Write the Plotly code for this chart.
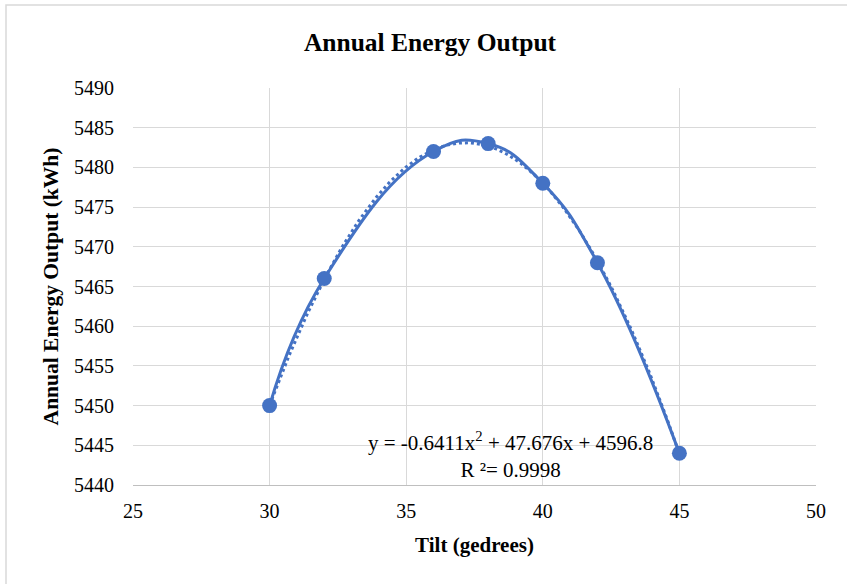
import numpy as np
import plotly.graph_objects as go

tilt = [30, 32, 36, 38, 40, 42, 45]
energy = [5450, 5466, 5482, 5483, 5478, 5468, 5444]
x_ticks = [25, 30, 35, 40, 45, 50]
y_ticks = [5440, 5445, 5450, 5455, 5460, 5465, 5470, 5475, 5480, 5485, 5490]
eq_text = "y = -0.6411x<sup>2</sup> + 47.676x + 4596.8<br>R ²= 0.9998"

coef = np.polyfit(tilt, energy, 2)
tx = np.linspace(min(tilt), max(tilt), 200)
ty = np.polyval(coef, tx)

BLUE = "#4472C4"
FONT = "Liberation Serif, Times New Roman, serif"

fig = go.Figure()
fig.add_trace(go.Scatter(x=tx, y=ty, mode="lines",
                         line=dict(color=BLUE, width=3, dash="dot"),
                         hoverinfo="skip", showlegend=False))
fig.add_trace(go.Scatter(x=tilt, y=energy, mode="lines+markers",
                         line=dict(color=BLUE, width=3, shape="spline", smoothing=1.3),
                         marker=dict(color=BLUE, size=15),
                         showlegend=False))

L, R, T, B = 133, 31, 88, 99
W, H = 847, 584
pw, ph = W - L - R, H - T - B

def px_x(p):
    return (p - L) / pw

def px_y(p):
    return (H - B - p) / ph

fig.add_shape(type="rect", xref="paper", yref="paper",
              x0=px_x(6), x1=px_x(870), y0=px_y(600), y1=px_y(5),
              line=dict(color="#D9D9D9", width=1.5), layer="below")

fig.add_annotation(xref="paper", yref="paper", x=px_x(510), y=px_y(455),
                   text=eq_text, showarrow=False, align="center",
                   xanchor="center", yanchor="middle",
                   font=dict(family=FONT, size=21, color="#000000"))

fig.update_layout(
    width=W, height=H,
    margin=dict(l=L, r=R, t=T, b=B),
    paper_bgcolor="white", plot_bgcolor="white",
    title=dict(text="<b>Annual Energy Output</b>", x=430 / W, xanchor="center",
               y=1 - 42 / H, yanchor="middle", xref="container", yref="container",
               font=dict(family=FONT, size=25.5, color="#000000")),
    xaxis=dict(range=[25, 50], tickvals=x_ticks, showgrid=True,
               gridcolor="#D9D9D9", gridwidth=1, zeroline=False,
               showline=True, linecolor="#BFBFBF", linewidth=1,
               ticklabelstandoff=8,
               tickfont=dict(family=FONT, size=20, color="#000000"),
               title=dict(text="<b>Tilt (gedrees)</b>", standoff=16,
                          font=dict(family=FONT, size=21, color="#000000"))),
    yaxis=dict(range=[5440, 5490], tickvals=y_ticks, showgrid=True,
               gridcolor="#D9D9D9", gridwidth=1, zeroline=False,
               showline=False, ticklabelstandoff=18,
               tickfont=dict(family=FONT, size=20, color="#000000"),
               title=dict(text="<b>Annual Energy Output (kWh)</b>", standoff=9,
                          font=dict(family=FONT, size=21.5, color="#000000"))),
)

fig.write_html("out.html", config={"displayModeBar": False},
               post_script="document.body.style.margin='0';")
